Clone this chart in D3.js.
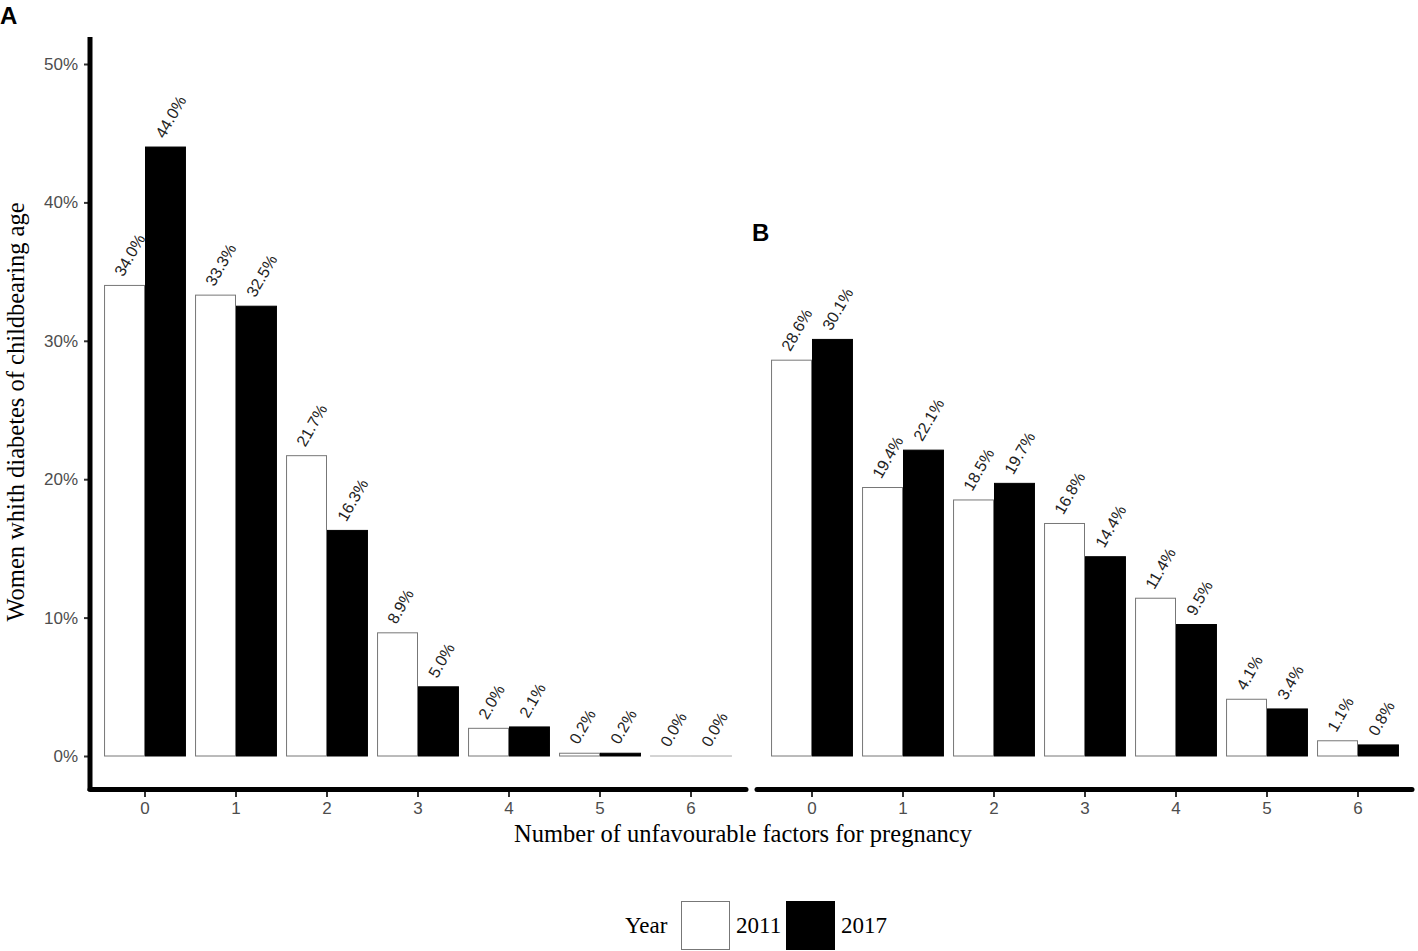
<!DOCTYPE html>
<html>
<head>
<meta charset="utf-8">
<script src="https://cdn.jsdelivr.net/npm/d3@7"></script>
<style>
  body { margin: 0; background: #fff; }
  svg { display: block; }
</style>
</head>
<body>
<div id="chart"></div>
<script>
const width = 1418, height = 951;

// data
const factors = ["0", "1", "2", "3", "4", "5", "6"];
const years = ["2011", "2017"];
const panelA2011 = [34.0, 33.3, 21.7, 8.9, 2.0, 0.2, 0.0];
const panelA2017 = [44.0, 32.5, 16.3, 5.0, 2.1, 0.2, 0.0];
const panelB2011 = [28.6, 19.4, 18.5, 16.8, 11.4, 4.1, 1.1];
const panelB2017 = [30.1, 22.1, 19.7, 14.4, 9.5, 3.4, 0.8];
const yTicks = [0, 10, 20, 30, 40, 50];

const svg = d3.select("#chart")
    .append("svg")
    .attr("width", width)
    .attr("height", height);

const sans = "Liberation Sans, Arial, Helvetica, sans-serif";
const serif = "Liberation Serif, Times New Roman, serif";

// shared y scale
const y = d3.scaleLinear()
    .domain([0, 50])
    .range([756, 64]);

const fill = d3.scaleOrdinal().domain(years).range(["#ffffff", "#000000"]);
const stroke = d3.scaleOrdinal().domain(years).range(["#777777", "#000000"]);

function drawPanel(range, v2011, v2017, axisStart, axisEnd) {
    const x = d3.scaleBand()
        .domain(factors)
        .range(range)
        .paddingInner(0.1)
        .paddingOuter(0.05);

    const xYear = d3.scaleBand()
        .domain(years)
        .range([0, x.bandwidth()]);

    const rows = factors.map((f, i) => ({ f, values: [
        { year: "2011", v: v2011[i] },
        { year: "2017", v: v2017[i] }
    ]}));

    const g = svg.append("g");

    const groups = g.selectAll("g.factor")
        .data(rows)
        .join("g")
        .attr("class", "factor")
        .attr("transform", d => `translate(${x(d.f)},0)`);

    groups.selectAll("rect")
        .data(d => d.values)
        .join("rect")
        .attr("x", d => xYear(d.year) + 0.5)
        .attr("y", d => y(d.v))
        .attr("width", xYear.bandwidth() - 1)
        .attr("height", d => Math.max(y(0) - y(d.v), 0.01))
        .attr("fill", d => fill(d.year))
        .attr("stroke", d => d.v === 0 ? "#aaaaaa" : stroke(d.year))
        .attr("stroke-width", 1);

    groups.selectAll("text")
        .data(d => d.values)
        .join("text")
        .attr("transform", d => `translate(${xYear(d.year) + xYear.bandwidth() / 2 - 5},${y(d.v) - 10}) rotate(-60)`)
        .attr("dominant-baseline", "middle")
        .attr("font-family", sans)
        .attr("font-size", 16)
        .attr("fill", "#222")
        .text(d => d.v.toFixed(1) + "%");

    // x axis line
    g.append("line")
        .attr("x1", axisStart)
        .attr("x2", axisEnd)
        .attr("y1", 789.5)
        .attr("y2", 789.5)
        .attr("stroke", "#000")
        .attr("stroke-width", 5)
        .attr("stroke-linecap", "round");

    const xAxis = g.append("g")
        .attr("transform", "translate(0,792)")
        .call(d3.axisBottom(x).tickSize(5).tickPadding(5));
    xAxis.select(".domain").remove();
    xAxis.selectAll(".tick line").attr("stroke", "#333").attr("stroke-width", 2);
    xAxis.selectAll(".tick text")
        .attr("font-family", sans)
        .attr("font-size", 17)
        .attr("fill", "#4d4d4d");
}

drawPanel([99.5, 736.5], panelA2011, panelA2017, 90, 746);
drawPanel([766.5, 1403.5], panelB2011, panelB2017, 757, 1412);

// y axis (panel A)
const yAxis = svg.append("g")
    .attr("transform", "translate(88,0)")
    .call(d3.axisLeft(y).tickValues(yTicks).tickFormat(d => d + "%").tickSize(4).tickPadding(6));
yAxis.select(".domain").remove();
yAxis.selectAll(".tick line").attr("stroke", "#333").attr("stroke-width", 2);
yAxis.selectAll(".tick text")
    .attr("font-family", sans)
    .attr("font-size", 17)
    .attr("fill", "#4d4d4d");

svg.append("line")
    .attr("x1", 90).attr("x2", 90)
    .attr("y1", 37).attr("y2", 791)
    .attr("stroke", "#000")
    .attr("stroke-width", 5);

// axis titles
svg.append("text")
    .attr("transform", "translate(24,412) rotate(-90)")
    .attr("text-anchor", "middle")
    .attr("font-family", serif)
    .attr("font-size", 24.5)
    .attr("fill", "#000")
    .text("Women whith diabetes of childbearing age");

svg.append("text")
    .attr("x", 743)
    .attr("y", 842)
    .attr("text-anchor", "middle")
    .attr("font-family", serif)
    .attr("font-size", 24.5)
    .attr("fill", "#000")
    .text("Number of unfavourable factors for pregnancy");

// panel letters
svg.append("text")
    .attr("x", 0).attr("y", 24)
    .attr("font-family", sans).attr("font-weight", "bold").attr("font-size", 24)
    .text("A");
svg.append("text")
    .attr("x", 752).attr("y", 241)
    .attr("font-family", sans).attr("font-weight", "bold").attr("font-size", 24)
    .text("B");

// legend
const legend = svg.append("g");
legend.append("text")
    .attr("x", 625).attr("y", 933)
    .attr("font-family", serif).attr("font-size", 23)
    .text("Year");

const legendX = [681, 786];
years.forEach((yr, i) => {
    legend.append("rect")
        .attr("x", legendX[i] + 0.5).attr("y", 901.5)
        .attr("width", 48).attr("height", 48)
        .attr("fill", fill(yr))
        .attr("stroke", stroke(yr));
    legend.append("text")
        .attr("x", legendX[i] + 55).attr("y", 933)
        .attr("font-family", serif).attr("font-size", 23)
        .text(yr);
});
</script>
</body>
</html>
